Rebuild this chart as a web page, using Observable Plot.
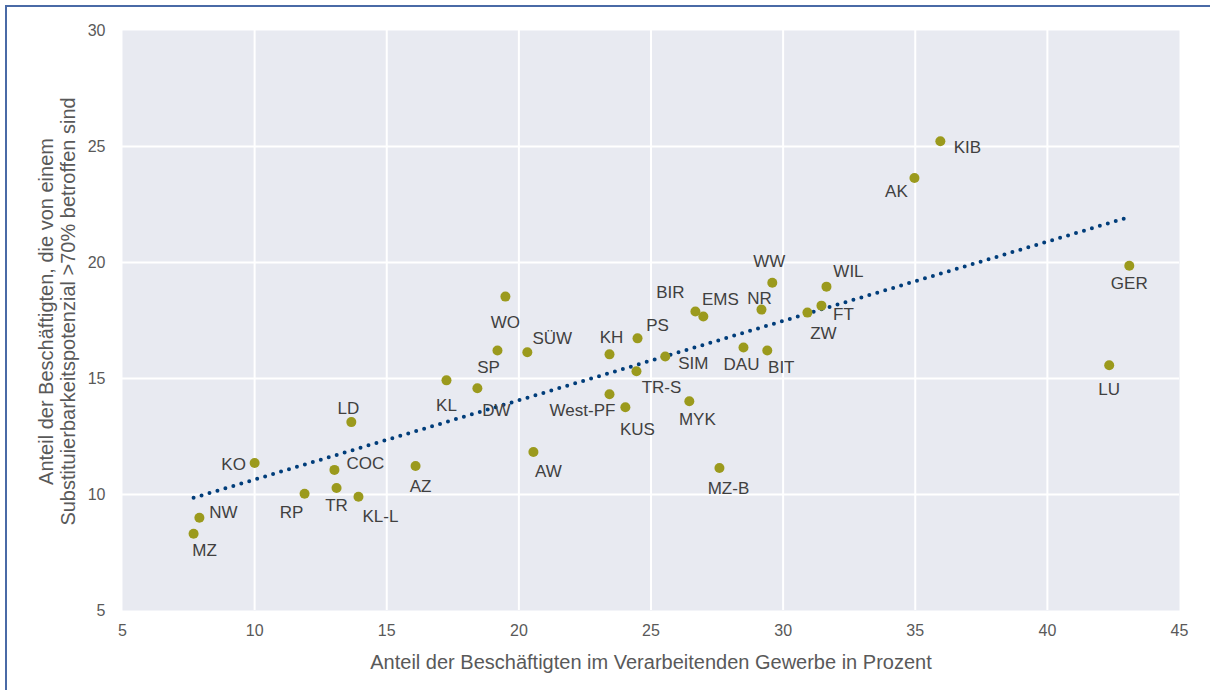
<!DOCTYPE html>
<html>
<head>
<meta charset="utf-8">
<script src="https://cdn.jsdelivr.net/npm/d3@7"></script>
<script src="https://cdn.jsdelivr.net/npm/@observablehq/plot@0.6"></script>
<style>
  html, body { margin: 0; padding: 0; background: #fff; }
  #wrap { position: relative; width: 1210px; height: 690px; overflow: hidden; }
  #frame { position: absolute; left: 5px; top: 5px; width: 1220px; height: 700px; border: 2px solid #4a6aa6; box-sizing: border-box; pointer-events: none; }
  svg { font-family: "Liberation Sans", Arial, sans-serif; }
</style>
</head>
<body>
<div id="wrap"><div id="frame"></div></div>
<script>
// ---- data ----
const names = ["MZ","NW","KO","RP","COC","TR","KL-L","LD","AZ","KL","DW","SP","WO","SÜW","AW","KH","West-PF","KUS","PS","TR-S","SIM","BIR","EMS","MYK","MZ-B","DAU","NR","WW","BIT","ZW","FT","WIL","AK","KIB","LU","GER"];
const xValues = [7.69,7.91,10.0,11.89,13.02,13.1,13.93,13.66,16.09,17.26,18.43,19.19,19.49,20.32,20.55,23.43,23.43,24.03,24.49,24.45,25.54,26.68,26.98,26.45,27.59,28.5,29.18,29.59,29.4,30.92,31.45,31.64,34.97,35.95,42.34,43.1];
const yValues = [8.31,9.0,11.36,10.03,11.06,10.28,9.9,13.12,11.23,14.92,14.58,16.21,18.53,16.13,11.83,16.04,14.32,13.76,16.73,15.31,15.95,17.89,17.67,14.02,11.14,16.34,17.97,19.13,16.21,17.84,18.14,18.96,23.64,25.23,15.57,19.86];
const xTicks = [5,10,15,20,25,30,35,40,45];
const yTicks = [5,10,15,20,25,30];
const xTitle = "Anteil der Beschäftigten im Verarbeitenden Gewerbe in Prozent";
const yTitle = "Anteil der Beschäftigten, die von einem\nSubstituierbarkeitspotenzial >70% betroffen sind";

// label placement (pixel offsets of label centre from its point)
const labelOffsets = {
  "MZ":[11,17],"NW":[24,-5],"KO":[-21,2],"RP":[-13,19],"COC":[31,-6],"TR":[0,18],"KL-L":[22,20],
  "LD":[-3,-14],"AZ":[5,21],"KL":[0,25],"DW":[19,22],"SP":[-9,17],"WO":[0,26],"SÜW":[25,-14],
  "AW":[15,20],"KH":[2,-17],"West-PF":[-27,16],"KUS":[12,22],"PS":[20,-13],"TR-S":[25,16],
  "SIM":[28,7],"BIR":[-25,-19],"EMS":[17,-17],"NR":[-2,-11],"WW":[-3,-21],"DAU":[-2,17],
  "BIT":[14,17],"MYK":[8,18],"MZ-B":[9,20],"ZW":[16,21],"FT":[22,9],"WIL":[22,-15],
  "AK":[-18,13],"KIB":[27,6],"LU":[0,24],"GER":[0,18]
};

const data = names.map((n, i) => ({name: n, x: xValues[i], y: yValues[i]}));

const pointColor = "#9b9a1d";
const labelColor = "#404040";
const axisColor = "#595959";

const labelMarks = data.map(d => Plot.text([d], {
  x: "x", y: "y", text: "name",
  dx: labelOffsets[d.name][0], dy: labelOffsets[d.name][1],
  fill: labelColor, fontSize: 17, textAnchor: "middle", lineAnchor: "middle"
}));

const chart = Plot.plot({
  width: 1210,
  height: 690,
  marginLeft: 122,
  marginRight: 31,
  marginTop: 30,
  marginBottom: 80,
  style: {fontFamily: "'Liberation Sans', Arial, sans-serif", background: "transparent"},
  x: {domain: [5, 45]},
  y: {domain: [5, 30]},
  marks: [
    Plot.frame({fill: "#e8eaf1", stroke: null}),
    Plot.gridX(xTicks.slice(1, -1), {stroke: "#ffffff", strokeOpacity: 1, strokeWidth: 2}),
    Plot.gridY(yTicks.slice(1, -1), {stroke: "#ffffff", strokeOpacity: 1, strokeWidth: 2}),
    Plot.axisX(xTicks, {tickSize: 0, tickPadding: 14, label: null, fontSize: 16, fill: axisColor}),
    Plot.axisY(yTicks, {tickSize: 0, tickPadding: 17, label: null, fontSize: 16, fill: axisColor}),
    Plot.text([xTitle], {frameAnchor: "bottom", dy: 52, fontSize: 20, fill: axisColor, textAnchor: "middle", lineAnchor: "middle"}),
    Plot.text([yTitle], {frameAnchor: "left", rotate: -90, dx: -65.5, dy: -9, fontSize: 20, fill: axisColor, textAnchor: "middle", lineAnchor: "middle", lineHeight: 1.1}),
    Plot.linearRegressionY(data, {x: "x", y: "y", ci: 0, stroke: "#003d7a", strokeWidth: 4, strokeDasharray: "0,8.3", strokeLinecap: "round"}),
    Plot.dot(data, {x: "x", y: "y", r: 5, fill: pointColor, stroke: null}),
    ...labelMarks
  ]
});

document.getElementById("wrap").insertBefore(chart, document.getElementById("frame"));
</script>
</body>
</html>
